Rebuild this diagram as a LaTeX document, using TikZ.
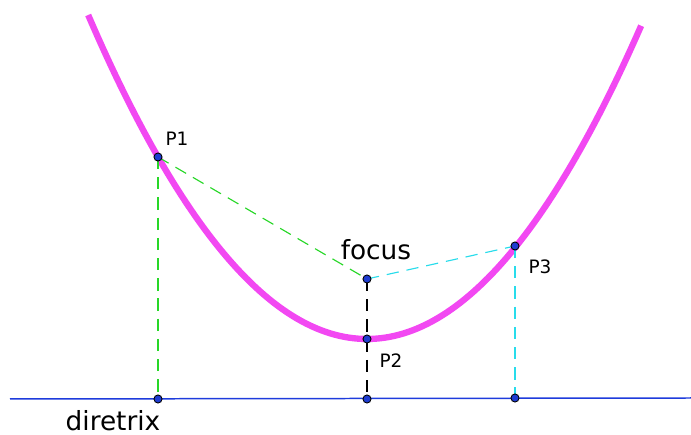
\documentclass[tikz,border=0pt]{standalone}
\usepackage{fontspec}
\setmainfont{DejaVu Sans}

\definecolor{parab}{RGB}{242,72,242}
\definecolor{lgreen}{RGB}{40,215,40}
\definecolor{lcyan}{RGB}{40,220,235}
\definecolor{dirblue}{RGB}{30,60,220}
\definecolor{ptblue}{RGB}{30,60,210}

\begin{document}
\begin{tikzpicture}[x=0.02cm, y=-0.02cm,
  curve/.style ={draw=parab, line width=3.6pt},
  dir/.style   ={draw=dirblue, line width=0.85pt},
  lnk/.style   ={dash pattern=on 7pt off 4.5pt, line width=0.65pt},
  pt/.style    ={circle, draw=black, fill=ptblue, inner sep=0pt, minimum size=4.6pt, line width=0.5pt},
  lbl/.style   ={font=\fontsize{10.5}{12}\selectfont},
  big/.style   ={font=\fontsize{15}{18}\selectfont}]

  \useasboundingbox (0,0) rectangle (691,435);

  % ---------------- parabola ----------------
  \draw[curve, domain=-18:17.7, samples=120] plot ({367+15.49*\x},{339-\x*\x});

  % ---------------- directrix ----------------
  \coordinate (dl) at (10,399);
  \coordinate (dr) at (691,398);
  \draw[dir] (dl) -- (dr);

  % ---------------- points ----------------
  \coordinate (P1) at (158,157);
  \coordinate (F)  at (367,279);
  \coordinate (P2) at (367,339);
  \coordinate (P3) at (515,246);
  \coordinate (D1) at (158,399);
  \coordinate (D2) at (367,399);
  \coordinate (D3) at (515,398);

  % ---------------- distances ----------------
  \draw[lnk, lgreen] (P1) -- (F);
  \draw[lnk, lgreen] (P1) -- (D1);
  \draw[lnk, lcyan]  (F) -- (P3);
  \draw[lnk, lcyan]  (P3) -- (D3);
  \draw[lnk, black]  (F) -- (D2);

  \foreach \p in {P1,F,P2,P3,D1,D2,D3}
    \node[pt] (n\p) at (\p) {};

  % ---------------- labels ----------------
  \node[lbl] (lP1) at (177,139) {P1};
  \node[lbl] (lP2) at (391,361) {P2};
  \node[lbl] (lP3) at (540,267) {P3};
  \node[big] (lF)  at (376,250) {focus};
  \node[big] (lD)  at (113,421) {diretrix};
\end{tikzpicture}
\end{document}
